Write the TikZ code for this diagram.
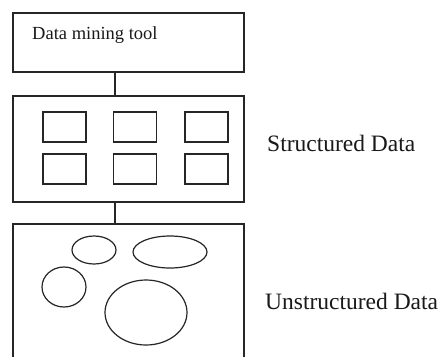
\documentclass[tikz,border=0pt]{standalone}
\usepackage{fontspec}
\setmainfont{Liberation Serif}
\usetikzlibrary{shapes.geometric}
\begin{document}
\begin{tikzpicture}[x=1pt,y=-1pt,
  box/.style={draw=black!85,line width=1.3pt,rectangle,inner sep=0pt},
  cell/.style={draw=black!85,line width=1.3pt,rectangle,inner sep=0pt,minimum width=43pt,minimum height=30pt},
  blob/.style={draw=black!85,line width=1.2pt,ellipse,inner sep=0pt},
  link/.style={draw=black!85,line width=1.3pt},
  lbl/.style={inner sep=0pt,anchor=base west,text=black!90}]
\clip (0,0) rectangle (446,356);
\fill[white] (0,0) rectangle (446,356);
% boxes
\node[box,minimum width=231pt,minimum height=59pt] (tool) at (128.5,42.5) {};
\node[box,minimum width=231pt,minimum height=106pt] (struct) at (128.5,149) {};
\node[box,minimum width=231pt,minimum height=150pt] (unstruct) at (128.5,299) {};
\coordinate (cx) at (115,0);
\draw[link] (tool.south -| cx) -- (struct.north -| cx);
\draw[link] (struct.south -| cx) -- (unstruct.north -| cx);
% labels
\node[lbl,font=\fontsize{18.5}{22}\selectfont] (tooltext) at (32,39) {Data mining tool};
\node[lbl,font=\fontsize{23.5}{28}\selectfont] (stext) at (267,151) {Structured Data};
\node[lbl,font=\fontsize{23.5}{28}\selectfont] (utext) at (265,309) {Unstructured Data};
% cells
\node[cell] (c11) at (64.5,127) {};
\node[cell] (c12) at (135,127) {};
\node[cell] (c13) at (206.5,127) {};
\node[cell] (c21) at (64.5,169) {};
\node[cell] (c22) at (135,169) {};
\node[cell] (c23) at (206.5,169) {};
% blobs
\node[blob,minimum width=44pt,minimum height=28pt] (e1) at (94,250) {};
\node[blob,minimum width=74pt,minimum height=32pt] (e2) at (170,252) {};
\node[blob,minimum width=44pt,minimum height=40pt] (e3) at (64,287) {};
\node[blob,minimum width=82pt,minimum height=65pt] (e4) at (146,312.5) {};
\end{tikzpicture}
\end{document}
